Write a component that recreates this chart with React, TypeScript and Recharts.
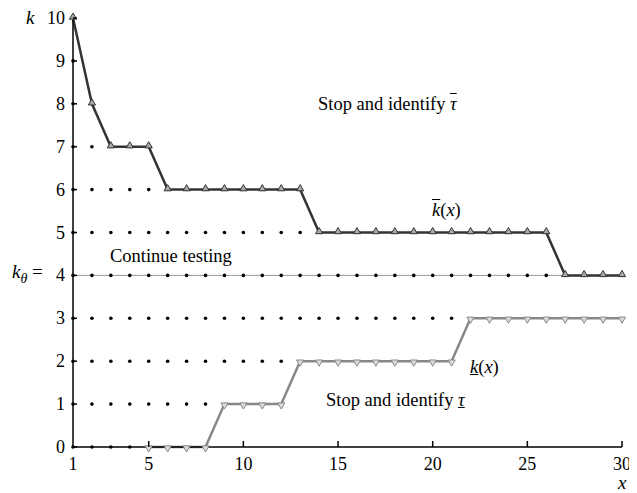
import React from "react";
import {
  LineChart,
  Line,
  XAxis,
  YAxis,
  Scatter,
  ReferenceLine,
} from "recharts";

// upper boundary k̄(x), x = 1..30
const upperX = [1, 2, 3, 4, 5, 6, 7, 8, 9, 10, 11, 12, 13, 14, 15, 16, 17, 18, 19, 20, 21, 22, 23, 24, 25, 26, 27, 28, 29, 30];
const upperK = [10, 8, 7, 7, 7, 6, 6, 6, 6, 6, 6, 6, 6, 5, 5, 5, 5, 5, 5, 5, 5, 5, 5, 5, 5, 5, 4, 4, 4, 4];

// lower boundary k(x), x = 5..30
const lowerX = [5, 6, 7, 8, 9, 10, 11, 12, 13, 14, 15, 16, 17, 18, 19, 20, 21, 22, 23, 24, 25, 26, 27, 28, 29, 30];
const lowerK = [0, 0, 0, 0, 1, 1, 1, 1, 2, 2, 2, 2, 2, 2, 2, 2, 2, 3, 3, 3, 3, 3, 3, 3, 3, 3];

// "continue testing" dots: for row k, dots run from x = 1 to the given last x
const dotRows = [0, 1, 2, 3, 4, 5, 6, 7, 8, 9];
const dotRowLastX = [4, 8, 12, 21, 26, 13, 5, 2, 1, 1];

const kTheta = 4;
const xTicks = [1, 5, 10, 15, 20, 25, 30];
const yTicks = [0, 1, 2, 3, 4, 5, 6, 7, 8, 9, 10];

const upperData = upperX.map((x, i) => ({ x, k: upperK[i] }));
const lowerData = lowerX.map((x, i) => ({ x, k: lowerK[i] }));
const dotData: { x: number; k: number }[] = [];
dotRows.forEach((k, i) => {
  for (let x = 1; x <= dotRowLastX[i]; x++) dotData.push({ x, k });
});

const FONT = "'Liberation Serif', 'Times New Roman', serif";

const UpTri = (p: any) => {
  const { cx, cy } = p;
  if (cx == null || cy == null) return null;
  return (
    <polygon
      points={`${cx},${cy - 5} ${cx - 3.6},${cy + 1.2} ${cx + 3.6},${cy + 1.2}`}
      fill="#aaa"
      stroke="#333"
      strokeWidth={1}
    />
  );
};

const DownTri = (p: any) => {
  const { cx, cy } = p;
  if (cx == null || cy == null) return null;
  return (
    <polygon
      points={`${cx},${cy + 5} ${cx - 3.6},${cy - 1.2} ${cx + 3.6},${cy - 1.2}`}
      fill="#ddd"
      stroke="#888"
      strokeWidth={1}
    />
  );
};

const Dot = (p: any) => (
  <circle cx={p.cx} cy={p.cy} r={1.8} fill="#000" />
);

const YTick = (p: any) => {
  const { x, y, payload } = p;
  return (
    <g>
      <line x1={x} x2={x + 4} y1={y} y2={y} stroke="#000" strokeWidth={1.5} />
      <text
        x={x - 8}
        y={y}
        textAnchor="end"
        dominantBaseline="central"
        fontFamily={FONT}
        fontSize={18}
        fill="#000"
      >
        {payload.value}
      </text>
    </g>
  );
};

const XTick = (p: any) => {
  const { x, y, payload } = p;
  return (
    <g>
      {payload.value !== 1 && (
        <line x1={x} x2={x} y1={y} y2={y - 6} stroke="#000" strokeWidth={1.5} />
      )}
      <text
        x={x}
        y={y + 17}
        textAnchor="middle"
        dominantBaseline="central"
        fontFamily={FONT}
        fontSize={18}
        fill="#000"
      >
        {payload.value}
      </text>
    </g>
  );
};

const Note = (props: { left: number; cy: number; children: React.ReactNode; size?: number }) => (
  <div
    style={{
      position: "absolute",
      left: props.left - 8,
      top: props.cy - 8 - 11,
      lineHeight: "22px",
      fontFamily: FONT,
      fontSize: props.size ?? 18.5,
      color: "#000",
      whiteSpace: "nowrap",
    }}
  >
    {props.children}
  </div>
);

export default function App() {
  return (
    <div style={{ position: "relative", width: 629, height: 485 }}>
      <LineChart
        width={629}
        height={485}
        margin={{ top: 10, right: 15, bottom: 0, left: 0 }}
      >
        <XAxis
          type="number"
          dataKey="x"
          domain={[1, 30]}
          ticks={xTicks}
          height={46}
          tickSize={0}
          tickMargin={0}
          tick={<XTick />}
          stroke="#000"
          strokeWidth={1.5}
          allowDuplicatedCategory={false}
        />
        <YAxis
          type="number"
          dataKey="k"
          domain={[0, 10]}
          ticks={yTicks}
          width={65}
          tickSize={0}
          tickMargin={0}
          tick={<YTick />}
          stroke="#000"
          strokeWidth={1.5}
        />
        <ReferenceLine y={kTheta} stroke="#999" strokeWidth={1} />
        <Scatter
          data={dotData}
          dataKey="k"
          shape={<Dot />}
          isAnimationActive={false}
        />
        <Line
          data={lowerData}
          dataKey="k"
          stroke="#888"
          strokeWidth={2.5}
          dot={<DownTri />}
          activeDot={false}
          isAnimationActive={false}
        />
        <Line
          data={upperData}
          dataKey="k"
          stroke="#333"
          strokeWidth={2.5}
          dot={<UpTri />}
          activeDot={false}
          isAnimationActive={false}
        />
      </LineChart>

      <Note left={26} cy={18} size={19}>
        <i>k</i>
      </Note>
      <Note left={12} cy={272} size={19}>
        <i>k</i>
        <sub style={{ fontSize: 14, verticalAlign: "-5px" }}>
          <i>θ</i>
        </sub>
        {" ="}
      </Note>
      <Note left={618} cy={483} size={19}>
        <i>x</i>
      </Note>
      <Note left={318} cy={104}>
        Stop and identify{" "}
        <i style={{ textDecoration: "overline" }}>τ</i>
      </Note>
      <Note left={432} cy={210}>
        <i style={{ textDecoration: "overline" }}>k</i>(<i>x</i>)
      </Note>
      <Note left={110} cy={256}>
        Continue testing
      </Note>
      <Note left={470} cy={367}>
        <i style={{ textDecoration: "underline" }}>k</i>(<i>x</i>)
      </Note>
      <Note left={326} cy={400}>
        Stop and identify{" "}
        <i style={{ textDecoration: "underline" }}>τ</i>
      </Note>
    </div>
  );
}
